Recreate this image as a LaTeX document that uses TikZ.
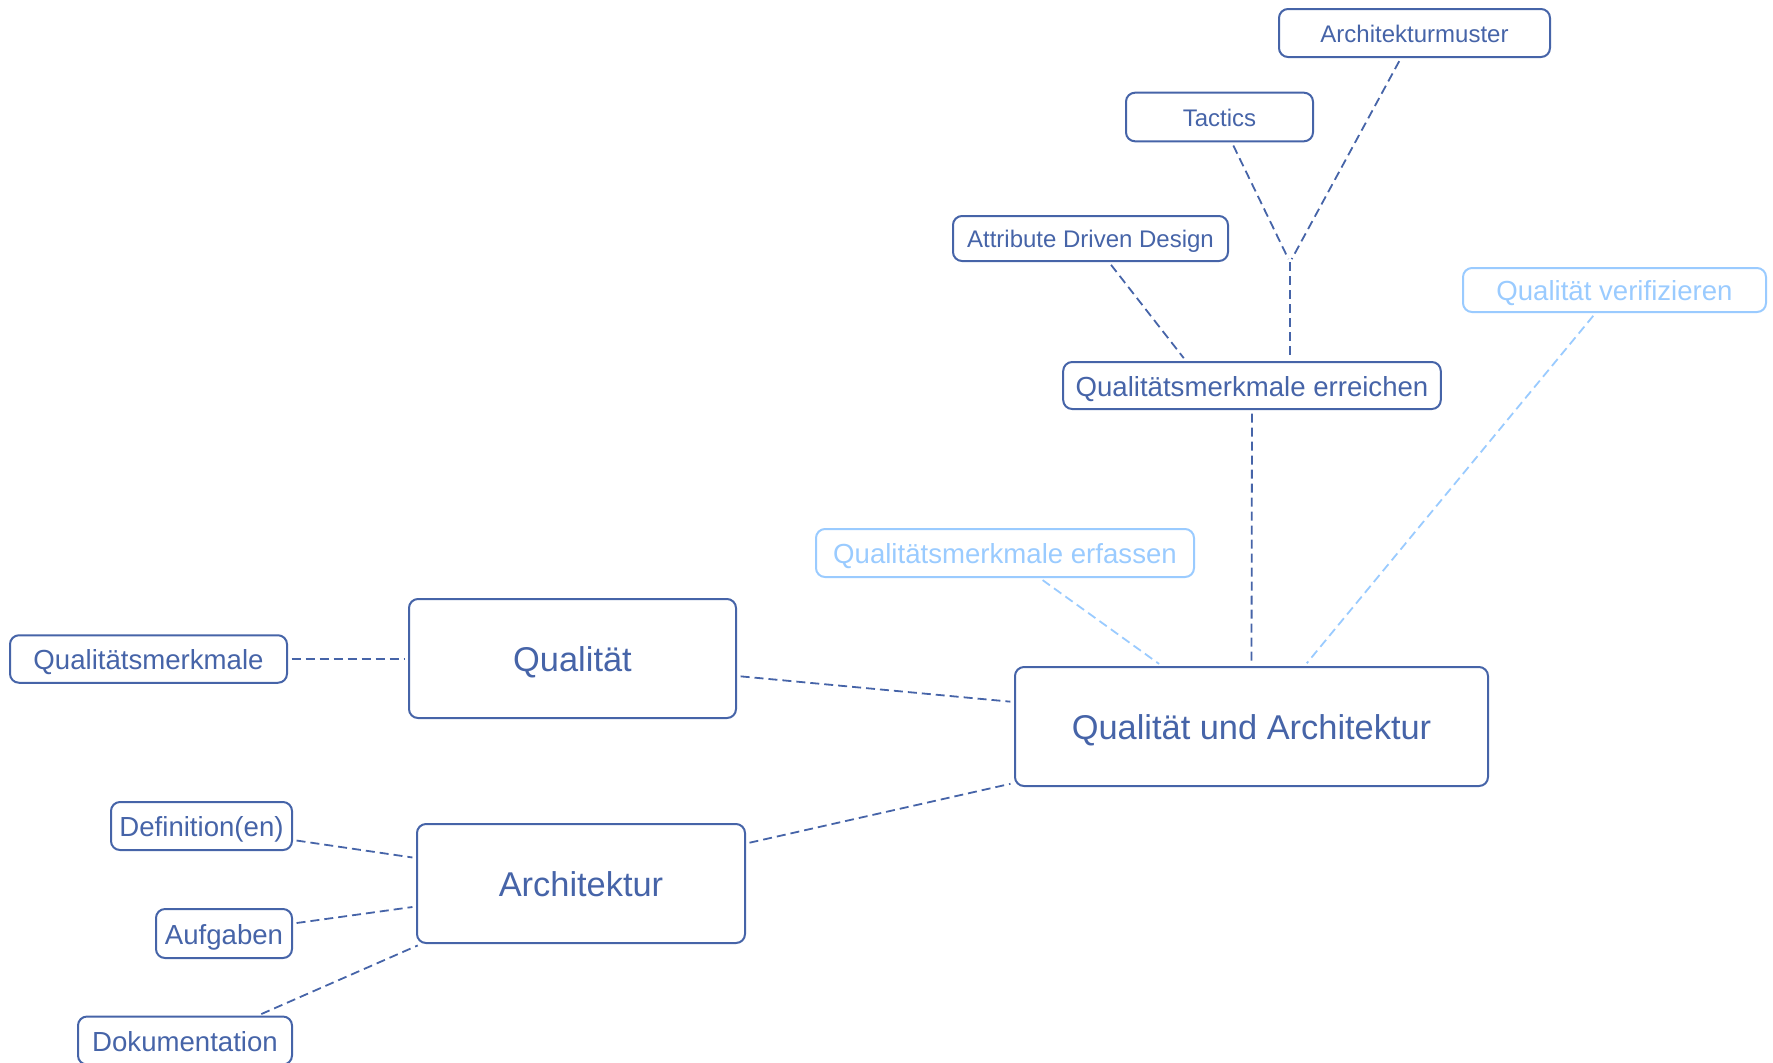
\documentclass[tikz,border=0pt]{standalone}
\usepackage{fontspec}
\setmainfont{Liberation Sans}
\usetikzlibrary{calc}
\definecolor{mapblue}{HTML}{4664A8}
\definecolor{mapsky}{HTML}{9ACBFF}
\tikzset{
  topic/.style={draw=#1, text=#1, line width=1pt, rounded corners=4.5pt,
    inner sep=0pt, align=center, text depth=0.03em},
  topic/.default=mapblue,
  bigtopic/.style={topic, font=\fontsize{17.2}{20}\selectfont, text height=1.34em},
  midtopic/.style={topic=#1, font=\fontsize{13.8}{16}\selectfont, text height=1.08em},
  midtopic/.default=mapblue,
  smalltopic/.style={topic, font=\fontsize{12}{14}\selectfont, text height=0.96em},
  link/.style={draw=#1, line width=0.9pt, dash pattern=on 4.5pt off 2.5pt,
    shorten <=1.8pt, shorten >=1.8pt},
  link/.default=mapblue,
}
\begin{document}
\begin{tikzpicture}[x=0.5pt, y=-0.5pt]
  \useasboundingbox (0,0) rectangle (1773,1062);

  % central topic and the two main branches
  \node[bigtopic, minimum width=236.5pt, minimum height=59.5pt] (qua) at (1251.5,726.5) {Qualität und Architektur};
  \node[bigtopic, minimum width=163.5pt, minimum height=59.5pt] (qual) at (572.5,658.5) {Qualität};
  \node[bigtopic, minimum width=164pt, minimum height=59.5pt] (arch) at (581,883.5) {Architektur};

  % second level
  \node[midtopic, minimum width=188.8pt, minimum height=23.5pt] (qme) at (1252,385.5) {Qualitätsmerkmale erreichen};
  \node[midtopic=mapsky, minimum width=189pt, minimum height=24pt] (qmf) at (1005,553) {Qualitätsmerkmale erfassen};
  \node[midtopic=mapsky, minimum width=151.5pt, minimum height=22pt] (qverif) at (1614.5,290) {Qualität verifizieren};
  \node[midtopic, minimum width=138.5pt, minimum height=23.75pt] (qm) at (148.5,659) {Qualitätsmerkmale};
  \node[midtopic, minimum width=90.5pt, minimum height=24pt] (def) at (201.5,826) {Definition(en)};
  \node[midtopic, minimum width=68pt, minimum height=24.5pt] (auf) at (224,933.5) {Aufgaben};
  \node[midtopic, minimum width=107pt, minimum height=24pt] (dok) at (185,1040.5) {Dokumentation};

  % third level
  \node[smalltopic, minimum width=137.5pt, minimum height=22.5pt] (add) at (1090.5,238.5) {Attribute Driven Design};
  \node[smalltopic, minimum width=93.5pt, minimum height=24.3pt] (tactics) at (1219.5,117) {Tactics};
  \node[smalltopic, minimum width=135.5pt, minimum height=24pt] (amuster) at (1414.5,33) {Architekturmuster};

  \coordinate (fork) at (1290,262.3);

  % connectors
  \draw[link] (tactics) -- (fork);
  \draw[link] (amuster) -- (fork);
  \draw[link, shorten <=0pt] (fork) -- ($(qme.north)+(38,0)$);
  \draw[link] (add) -- ($(qme.north)+(-66,0)$);
  \draw[link] (qme.south) -- (qua.north);
  \draw[link=mapsky] (qverif) -- ($(qua.north)+(53,0)$);
  \draw[link=mapsky] (qmf) -- ($(qua.north)+(-89.5,0)$);
  \draw[link] ($(qual.east)+(0,17.5)$) -- ($(qua.west)+(0,-24.5)$);
  \draw[link] ($(arch.east)+(0,-40)$) -- ($(qua.south west)+(0,-4)$);
  \draw[link] (qm.east) -- (qm.east -| qual.west);
  \draw[link] ($(def.east)+(0,14)$) -- ($(arch.west)+(0,-25.5)$);
  \draw[link] ($(auf.east)+(0,-10)$) -- ($(arch.west)+(0,23)$);
  \draw[link] ($(dok.north)+(73,0)$) -- ($(arch.south west)+(5,0)$);
\end{tikzpicture}
\end{document}
